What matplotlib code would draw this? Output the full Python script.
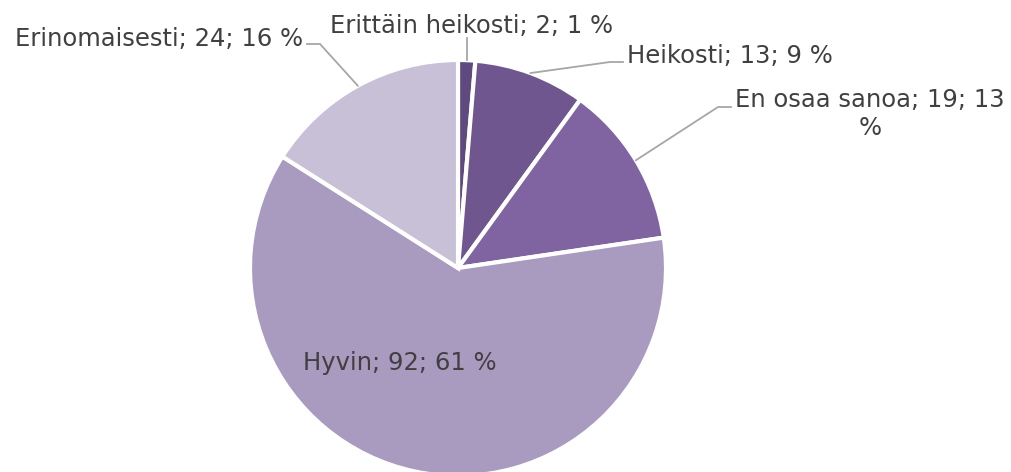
import numpy as np
import matplotlib.pyplot as plt

labels = ['Erittäin heikosti', 'Heikosti', 'En osaa sanoa', 'Hyvin', 'Erinomaisesti']
counts = [2, 13, 19, 92, 24]
percents = [1, 9, 13, 61, 16]
colors = ['#5e4a7e', '#6f568e', '#8064a2', '#a99abf', '#c8c0d7']

W, H = 1012, 472
cx, cy, r = 458, H - 268, 208

fig = plt.figure(figsize=(W / 100, H / 100), dpi=100)
ax = fig.add_axes([0, 0, 1, 1])

wedges, _ = ax.pie(counts, colors=colors, startangle=90, counterclock=False,
                   center=(cx, cy), radius=r,
                   wedgeprops=dict(edgecolor='white', linewidth=3))
ax.set_xlim(0, W)
ax.set_ylim(0, H)
ax.set_aspect('equal')
ax.axis('off')

txt = dict(fontsize=17.5, color='#404040', family='DejaVu Sans', va='baseline')
line = dict(color='#a6a6a6', lw=1.3)

texts = ['%s; %d; %d %%' % (l, c, p) for l, c, p in zip(labels, counts, percents)]

def edge(w):
    a = np.deg2rad((w.theta1 + w.theta2) / 2)
    return cx + r * np.cos(a), cy + r * np.sin(a)

# Erittäin heikosti
x0, y0 = edge(wedges[0])
ax.plot([x0, x0], [y0, H - 38], **line)
ax.text(472, H - 33, texts[0], ha='center', **txt)

# Heikosti
x0, y0 = edge(wedges[1])
ax.plot([x0, 610, 623], [y0, H - 62, H - 62], **line)
ax.text(627, H - 63, texts[1], ha='left', **txt)

# En osaa sanoa (wrapped)
x0, y0 = edge(wedges[2])
ax.plot([x0, 718, 731], [y0, H - 107, H - 107], **line)
ax.text(870, H - 107, 'En osaa sanoa; 19; 13', ha='center', **txt)
ax.text(870, H - 135, '%', ha='center', **txt)

# Erinomaisesti
x0, y0 = edge(wedges[4])
ax.plot([x0, 320, 307], [y0, H - 44, H - 44], **line)
ax.text(303, H - 46, texts[4], ha='right', **txt)

# Hyvin (inside)
ax.text(303, H - 370, texts[3], ha='left', **txt)

fig.savefig('out.png', dpi=100, facecolor='white')
